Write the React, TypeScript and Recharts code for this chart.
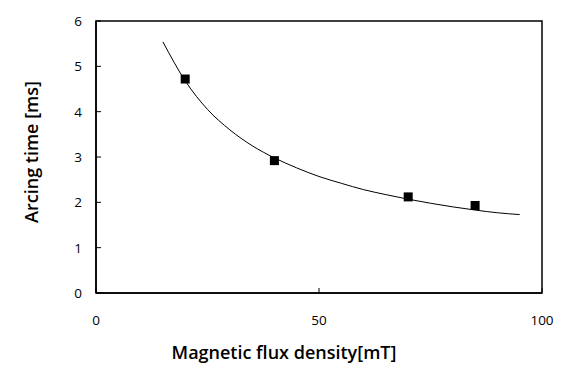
import {
  ComposedChart,
  Line,
  Scatter,
  XAxis,
  YAxis,
  ReferenceArea,
} from 'recharts';

// fitted curve
const curveFlux = [15, 20, 25, 30, 35, 40, 45, 50, 55, 60, 65, 70, 75, 80, 85, 90, 95];
const curveTime = [5.54, 4.68, 4.05, 3.6, 3.25, 2.98, 2.76, 2.57, 2.42, 2.28, 2.17, 2.07, 1.98, 1.9, 1.83, 1.77, 1.73];

// measured points
const pointFlux = [20, 40, 70, 85];
const pointTime = [4.72, 2.92, 2.12, 1.93];

const xTicks = [0, 50, 100];
const yTicks = [0, 1, 2, 3, 4, 5, 6];

const curveData = curveFlux.map((x, i) => ({ x, y: curveTime[i] }));
const pointData = pointFlux.map((x, i) => ({ x, y: pointTime[i] }));

const FONT = '"Open Sans", "Noto Sans", sans-serif';

const YTick = ({ x, y, payload }: any) => (
  <g>
    <text x={x} y={y} dy={5} textAnchor="end" fontSize={13.5} fill="#000" fontFamily={FONT}>
      {payload.value}
    </text>
    <line x1={x + 14} x2={x + 19} y1={y} y2={y} stroke="#000" />
  </g>
);

const XTick = ({ x, y, payload }: any) => (
  <g>
    <text x={x} y={y} dy={15} textAnchor="middle" fontSize={13.5} fill="#000" fontFamily={FONT}>
      {payload.value}
    </text>
    <line x1={x} x2={x} y1={y - 17} y2={y - 22} stroke="#000" />
  </g>
);

const SquareDot = ({ cx, cy }: any) => (
  <rect x={cx - 4.5} y={cy - 4.5} width={9} height={9} fill="#000" />
);

const App = () => {
  return (
    <div style={{ position: 'absolute', left: 0, top: 0, width: 577, height: 379, background: '#fff' }}>
      <ComposedChart width={577} height={379} margin={{ top: 21, right: 35, left: 0, bottom: 0 }}>
        <XAxis
          type="number"
          dataKey="x"
          domain={[0, 100]}
          ticks={xTicks}
          tickSize={0}
          tickMargin={17}
          tickLine={false}
          tick={<XTick />}
          axisLine={{ stroke: '#000', strokeWidth: 1.5 }}
          height={86}
          label={{
            value: 'Magnetic flux density[mT]',
            position: 'insideBottom',
            offset: 20,
            dx: -35,
            fontSize: 18,
            fontWeight: 600,
            fill: '#000',
            fontFamily: FONT,
          }}
        />
        <YAxis
          type="number"
          dataKey="y"
          domain={[0, 6]}
          ticks={yTicks}
          tickSize={0}
          tickMargin={14}
          tickLine={false}
          tick={<YTick />}
          axisLine={{ stroke: '#000', strokeWidth: 1.5 }}
          width={96}
          label={{
            value: 'Arcing time [ms]',
            angle: -90,
            position: 'insideLeft',
            offset: 32,
            dy: -5,
            fontSize: 18,
            fontWeight: 600,
            fill: '#000',
            fontFamily: FONT,
            style: { textAnchor: 'middle' },
          }}
        />
        <ReferenceArea x1={0} x2={100} y1={0} y2={6} fill="none" stroke="#000" strokeWidth={1.5} ifOverflow="visible" />
        <Line
          data={curveData}
          dataKey="y"
          type="monotone"
          stroke="#000"
          strokeWidth={1}
          dot={false}
          activeDot={false}
          isAnimationActive={false}
        />
        <Scatter data={pointData} dataKey="y" shape={<SquareDot />} isAnimationActive={false} />
      </ComposedChart>
    </div>
  );
};

export default App;
